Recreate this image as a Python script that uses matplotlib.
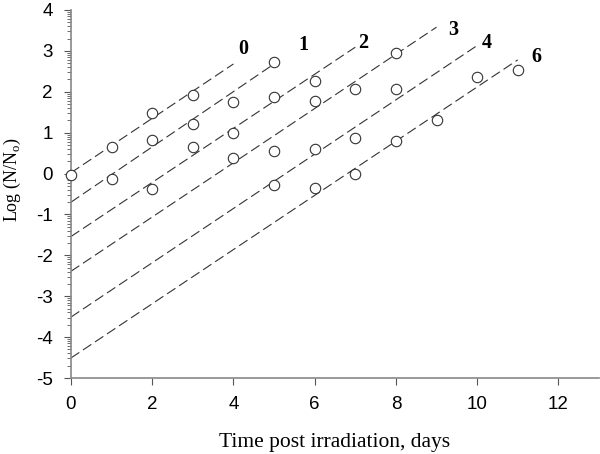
import numpy as np
import matplotlib
matplotlib.use("Agg")
from matplotlib import pyplot as plt
from matplotlib.ticker import FixedLocator

plt.rcParams["axes.unicode_minus"] = False

# measured points (day, log N/No)
pt_day = [0, 1, 1, 2, 2, 2, 3, 3, 3, 4, 4, 4, 5, 5, 5, 5,
          6, 6, 6, 6, 7, 7, 7, 8, 8, 8, 9, 10, 11]
pt_logn = [-0.03, 0.64, -0.13, 1.48, 0.81, -0.39, 1.91, 1.20, 0.64,
           1.74, 0.99, 0.37, 2.74, 1.87, 0.56, -0.28,
           2.27, 1.78, 0.59, -0.35, 2.07, 0.87, -0.01,
           2.95, 2.07, 0.79, 1.30, 2.37, 2.54]

# fitted lines, one per storage label
line_names = ["0", "1", "2", "3", "4", "6"]
line_x0 = [0, 0, 0, 0, 0, 0]
line_y0 = [0.02, -0.70, -1.54, -2.39, -3.51, -4.51]
line_x1 = [4, 5, 7, 9, 10, 11]
line_y1 = [2.68, 2.68, 3.09, 3.58, 3.13, 2.78]
label_x = [4.23, 5.72, 7.20, 9.40, 10.24, 11.47]
label_y = [3.05, 3.15, 3.19, 3.50, 3.19, 2.86]

fig = plt.figure(figsize=(6.0, 4.54), dpi=100)
ax = fig.add_axes([0.1183, 0.1674, 0.8800, 0.8106])

for i in range(len(line_names)):
    ax.plot([line_x0[i], line_x1[i]], [line_y0[i], line_y1[i]],
            color="#333333", lw=0.8, dashes=(9, 4), zorder=2)
    ax.text(label_x[i], label_y[i], line_names[i], family="Liberation Serif",
            fontweight="bold", fontsize=14.5, ha="center", va="center")

ax.plot(pt_day, pt_logn, "o", ms=7.5, mfc="white", mec="#333333", mew=0.8,
        linestyle="none", zorder=3, clip_on=False)

ax.set_xlim(0, 13)
ax.set_ylim(-5, 4)
ax.set_xticks([0, 2, 4, 6, 8, 10, 12])
ax.set_yticks(range(-5, 5))
minors = [n + np.log10(k) for n in range(-5, 4) for k in range(2, 10)]
ax.yaxis.set_minor_locator(FixedLocator(minors))

for s in ["top", "right"]:
    ax.spines[s].set_visible(False)
for s in ["left", "bottom"]:
    ax.spines[s].set_color("#888888")
    ax.spines[s].set_linewidth(1.2)

ax.tick_params(axis="both", which="major", direction="out", length=5,
               color="#555555", width=0.8, labelsize=13.5, labelcolor="black")
ax.tick_params(axis="y", which="minor", direction="out", length=3,
               color="#555555", width=0.6)
ax.tick_params(axis="x", pad=8)
ax.tick_params(axis="y", pad=8)
for lab in ax.get_xticklabels() + ax.get_yticklabels():
    lab.set_family("Liberation Sans")

ax.set_xlabel("Time post irradiation, days", family="Liberation Serif",
              fontsize=15.5, labelpad=14)
ax.set_ylabel("Log (N/N$_\\mathregular{o}$)", family="Liberation Serif",
              fontsize=13)
ax.yaxis.set_label_coords(-0.09, 0.538)

fig.savefig("out.png", dpi=100)
